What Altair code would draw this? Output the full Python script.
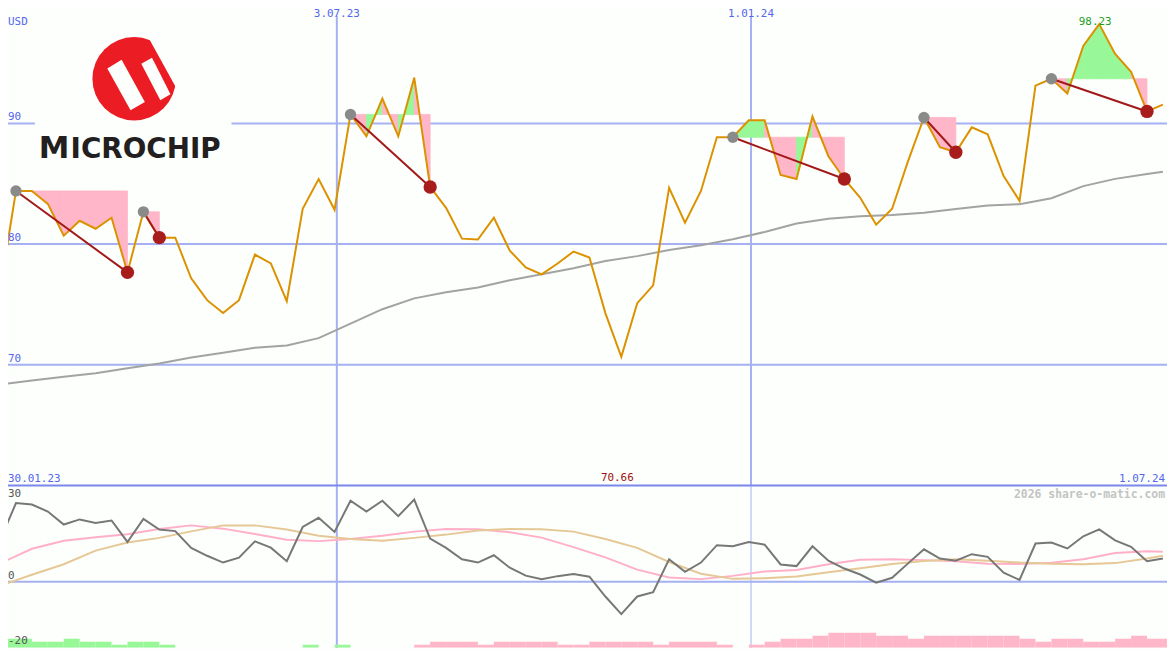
import altair as alt
import pandas as pd

# ---------------- data ----------------
week_dates = [d.strftime("%Y-%m-%d") for d in pd.date_range("2023-02-05", periods=74, freq="7D")]
week_ends = [(pd.Timestamp(d) + pd.Timedelta(days=7)).strftime("%Y-%m-%d") for d in week_dates]

price = [76.17, 84.40, 84.40, 83.33, 80.70, 81.93, 81.27, 82.18, 77.65, 82.67,
         80.53, 80.53, 77.16, 75.35, 74.28, 75.35, 79.13, 78.39, 75.27, 82.92,
         85.39, 82.84, 90.74, 88.93, 92.06, 88.93, 93.79, 84.73, 83.00, 80.45,
         80.37, 82.18, 79.46, 78.06, 77.49, 78.39, 79.38, 78.89, 74.28, 70.66,
         75.10, 76.58, 84.65, 81.77, 84.40, 88.85, 88.85, 90.25, 90.25, 85.72,
         85.39, 90.57, 87.28, 85.39, 83.83, 81.60, 82.92, 86.87, 90.49, 88.02,
         87.61, 89.67, 89.09, 85.64, 83.58, 93.13, 93.70, 92.47, 96.42, 98.23,
         95.76, 94.28, 90.99, 91.56]

smooth_idx = list(range(0, 73, 2)) + [73]
ma = [68.35, 68.7, 69.0, 69.3, 69.7, 70.1, 70.6, 71.0, 71.4, 71.6,
      72.2, 73.4, 74.6, 75.5, 76.0, 76.4, 77.0, 77.5, 78.0, 78.6,
      79.0, 79.5, 79.9, 80.4, 81.0, 81.7, 82.1, 82.3, 82.4, 82.6,
      82.9, 83.2, 83.3, 83.8, 84.8, 85.4, 85.8, 86.0]

osc_main = [15.3, 29.0, 28.5, 25.9, 21.1, 23.0, 21.7, 22.6, 14.7, 23.2,
            19.3, 18.7, 12.5, 9.6, 7.1, 8.9, 14.9, 12.6, 7.6, 20.2,
            23.6, 18.4, 29.9, 25.9, 29.9, 24.2, 30.3, 15.9, 12.5, 8.3,
            7.1, 9.8, 5.2, 2.3, 1.0, 2.1, 2.9, 1.9, -5.4, -11.9,
            -5.4, -3.8, 8.3, 3.7, 7.1, 13.5, 13.1, 14.7, 13.7, 6.4,
            5.8, 13.1, 7.8, 4.9, 2.7, -0.3, 1.5, 6.8, 12.0, 8.6,
            7.8, 10.2, 9.2, 3.4, 0.7, 14.1, 14.5, 12.3, 16.8, 19.3,
            15.3, 12.9, 7.6, 8.6]
osc_pink = [6.8, 12.2, 15.1, 16.4, 17.5, 19.5, 20.8, 19.6, 17.6, 15.5,
            15.0, 15.8, 17.0, 18.5, 19.5, 19.4, 18.3, 16.3, 12.8, 9.0,
            4.5, 1.6, 1.0, 2.2, 3.8, 4.4, 6.5, 8.1, 8.3, 8.0,
            7.6, 6.7, 6.6, 7.0, 8.3, 10.6, 11.3, 11.1]
osc_tan = [-1.4, 2.6, 6.5, 11.5, 14.5, 16.2, 18.6, 20.8, 20.8, 19.3,
           17.0, 15.8, 15.1, 16.2, 17.4, 18.9, 19.5, 19.4, 18.5, 15.8,
           12.5, 7.3, 3.0, 1.1, 1.3, 2.0, 3.5, 5.0, 6.6, 7.7,
           8.3, 7.8, 7.1, 6.7, 6.5, 6.9, 8.6, 9.6]

flow = [3, 3, 2, 2, 3, 2, 2, 1, 2, 2, 1,
        0, 0, 0, 0, 0, 0, 0, 0,
        1, 0, 1, 0, 0, 0, 0,
        -1, -2, -2, -2, -1, -2, -2, -2, -2, -1, -1,
        -2, -2, -2, -2, -1, -2, -2, -2, -1, 0,
        -1, -2, -3, -3, -4, -5, -5, -5, -4, -4, -3,
        -4, -4, -4, -4, -4, -4, -3, -2, -3, -3, -2, -2, -3, -4, -3, -3]

signals = [(1, 8), (9, 10), (22, 27), (46, 53), (58, 60), (66, 72)]

grid_dates = ["2023-07-03", "2024-01-01"]
grid_labels = ["3.07.23", "1.01.24"]
grid_widths = [2, 1]
price_grid = [70, 80, 90]
osc_grid = [30, 0]

# ---------------- derived tables ----------------
df_price = pd.DataFrame({"date": week_dates, "price": price})
df_ma = pd.DataFrame({"date": [week_dates[i] for i in smooth_idx], "ma": ma})
df_osc = pd.DataFrame({"date": week_dates, "v": osc_main})
df_pink = pd.DataFrame({"date": [week_dates[i] for i in smooth_idx], "v": osc_pink})
df_tan = pd.DataFrame({"date": [week_dates[i] for i in smooth_idx], "v": osc_tan})
df_flow = pd.DataFrame({"date": week_dates, "end": week_ends,
                        "h": [abs(f) for f in flow],
                        "dir": ["up" if f > 0 else "down" for f in flow]})
df_flow = df_flow[df_flow.h > 0]

seg_rows, line_rows, start_rows, end_rows = [], [], [], []
sid = 0
for pi, (s, e) in enumerate(signals):
    level = price[s]
    for j in range(s, e):
        d = "up" if price[j + 1] >= level else "down"
        for k in (j, j + 1):
            seg_rows.append({"seg": sid, "date": week_dates[k], "price": price[k],
                             "level": level, "dir": d})
        sid += 1
    line_rows.append({"pair": pi, "date": week_dates[s], "price": price[s]})
    line_rows.append({"pair": pi, "date": week_dates[e], "price": price[e]})
    start_rows.append({"date": week_dates[s], "price": price[s]})
    end_rows.append({"date": week_dates[e], "price": price[e]})
df_seg = pd.DataFrame(seg_rows)
df_sigline = pd.DataFrame(line_rows)
df_start = pd.DataFrame(start_rows)
df_end = pd.DataFrame(end_rows)

df_vgrid = pd.DataFrame({"date": grid_dates, "label": grid_labels, "w": grid_widths})
df_pgrid = pd.DataFrame({"price": price_grid, "label": [str(v) for v in price_grid]})
df_ogrid = pd.DataFrame({"v": osc_grid, "label": [str(v) for v in osc_grid]})

imax = price.index(max(price))
imin = price.index(min(price))
df_max = pd.DataFrame({"date": [week_dates[imax]], "price": [max(price)], "label": [f"{max(price):.2f}"]})
df_min = pd.DataFrame({"date": [week_dates[imin]], "price": [60.0], "label": [f"{min(price):.2f}"]})

# ---------------- style ----------------
BG = "#fcfffc"
GRID = "#a5b1f3"
DIV = "#7a88ee"
BLUE_TXT = "#5566ee"
ORANGE = "#dc9200"
GREEN = "#98f898"
PINK = "#ffb6c8"
MONO = "DejaVu Sans Mono"

XS = alt.Scale(type="utc", nice=False,
               domain=[alt.DateTime(year=2023, month=2, date=8, hours=12, utc=True),
                       alt.DateTime(year=2024, month=7, date=1, hours=19, utc=True)])
PS = alt.Scale(domain=[46.54, 99.38], nice=False, zero=False)
OS = alt.Scale(domain=[-24.3, 210.6], nice=False, zero=False)
BS = alt.Scale(domain=[0, 210.5], nice=False, zero=True)

X = alt.X("date:T", scale=XS, axis=None)
YP = alt.Y("price:Q", scale=PS, axis=None)
YO = alt.Y("v:Q", scale=OS, axis=None)
dir_scale = alt.Scale(domain=["up", "down"], range=[GREEN, PINK])
dir_color = alt.Color("dir:N", scale=dir_scale, legend=None)
dir_stroke = alt.Stroke("dir:N", scale=dir_scale, legend=None)

layers = []

# horizontal price gridlines
layers.append(alt.Chart(df_pgrid).mark_rule(color=GRID, strokeWidth=2).encode(y=YP))
# oscillator zero line
layers.append(alt.Chart(df_ogrid[df_ogrid.v == 0]).mark_rule(color=GRID, strokeWidth=2).encode(y=YO))
# vertical gridlines
layers.append(alt.Chart(df_vgrid).mark_rule(color=GRID, strokeWidth=2).encode(
    x=X, y=alt.value(6), y2=alt.value(479)))
layers.append(alt.Chart(df_vgrid).mark_rule(color=GRID).encode(
    x=X, y=alt.value(479), y2=alt.value(642), strokeWidth=alt.StrokeWidth("w:Q", scale=None)))
# panel divider
layers.append(alt.Chart(pd.DataFrame({"price": [60.0]})).mark_rule(color=DIV, strokeWidth=2).encode(y=YP))

# flow bars at bottom
layers.append(alt.Chart(df_flow).mark_rect(clip=True).encode(
    x=X, x2="end:T", y=alt.Y("h:Q", scale=BS, axis=None), y2=alt.datum(0), color=dir_color))

# signal fills
layers.append(alt.Chart(df_seg).mark_area(opacity=1, strokeWidth=0.8, clip=True).encode(
    x=X, y=YP, y2="level:Q", color=dir_color, stroke=dir_stroke, detail="seg:N"))

# moving average
layers.append(alt.Chart(df_ma).mark_line(color="#a3a3a3", strokeWidth=2, clip=True).encode(
    x=X, y=alt.Y("ma:Q", scale=PS, axis=None)))
# price
layers.append(alt.Chart(df_price).mark_line(color=ORANGE, strokeWidth=2, clip=True).encode(x=X, y=YP))
# signal lines
layers.append(alt.Chart(df_sigline).mark_line(color="#a31818", strokeWidth=2).encode(
    x=X, y=YP, detail="pair:N"))
layers.append(alt.Chart(df_start).mark_point(filled=True, color="#8a8a8a", opacity=1, size=130).encode(x=X, y=YP))
layers.append(alt.Chart(df_end).mark_point(filled=True, color="#a81c1c", opacity=1, size=180).encode(x=X, y=YP))

# oscillator lines
layers.append(alt.Chart(df_pink).mark_line(color="#ffb0c8", strokeWidth=2, clip=True).encode(x=X, y=YO))
layers.append(alt.Chart(df_tan).mark_line(color="#e6c896", strokeWidth=2, clip=True).encode(x=X, y=YO))
layers.append(alt.Chart(df_osc).mark_line(color="#777777", strokeWidth=2, clip=True).encode(x=X, y=YO))

# labels
layers.append(alt.Chart(df_pgrid).mark_text(font=MONO, fontSize=11, color=BLUE_TXT, align="left", dy=-6).encode(
    x=alt.value(0), y=YP, text="label:N"))
layers.append(alt.Chart(pd.DataFrame({"t": ["USD"]})).mark_text(font=MONO, fontSize=11, color=BLUE_TXT, align="left").encode(
    x=alt.value(0), y=alt.value(12), text="t:N"))
layers.append(alt.Chart(df_vgrid).mark_text(font=MONO, fontSize=11, color=BLUE_TXT).encode(
    x=X, y=alt.value(4), text="label:N"))
layers.append(alt.Chart(df_ogrid).mark_text(font=MONO, fontSize=11, color="#555555", align="left", dy=-6).encode(
    x=alt.value(0), y=YO, text="label:N"))
layers.append(alt.Chart(pd.DataFrame({"v": [-20], "label": ["-20"]})).mark_text(font=MONO, fontSize=11, color="#555555", align="left", dy=5).encode(
    x=alt.value(0), y=YO, text="label:N"))
layers.append(alt.Chart(pd.DataFrame({"t": ["30.01.23"]})).mark_text(font=MONO, fontSize=11, color=BLUE_TXT, align="left", baseline="alphabetic").encode(
    x=alt.value(0), y=alt.value(475), text="t:N"))
layers.append(alt.Chart(pd.DataFrame({"t": ["1.07.24"]})).mark_text(font=MONO, fontSize=11, color=BLUE_TXT, align="right", baseline="alphabetic").encode(
    x=alt.value(1165), y=alt.value(475), text="t:N"))
layers.append(alt.Chart(pd.DataFrame({"t": ["2026 share-o-matic.com"]})).mark_text(font=MONO, fontSize=11.5, fontWeight="bold", color="#c4c4c4", align="right").encode(
    x=alt.value(1165), y=alt.value(488), text="t:N"))
layers.append(alt.Chart(df_max).mark_text(font=MONO, fontSize=11, color="#1e9e1e", dy=-2, dx=-4).encode(
    x=X, y=YP, text="label:N"))
layers.append(alt.Chart(df_min).mark_text(font=MONO, fontSize=11, color="#a01010", baseline="alphabetic", dy=-4, dx=-4).encode(
    x=X, y=YP, text="label:N"))

# logo
one = pd.DataFrame({"a": [0]})
layers.append(alt.Chart(one).mark_rect(color=BG).encode(
    x=alt.value(27), x2=alt.value(225), y=alt.value(104), y2=alt.value(124)))
layers.append(alt.Chart(one).mark_point(filled=True, shape="circle", color="#ec1c24", opacity=1, size=7056).encode(
    x=alt.value(127), y=alt.value(69)))
for path in ["M0.07,-1L0.77,0.27L1,0.27L1,-1Z",
             "M-0.45,-0.17L-0.21,-0.32L0.18,0.39L-0.06,0.53Z",
             "M0.12,-0.25L0.30,-0.35L0.61,0.26L0.44,0.36Z"]:
    layers.append(alt.Chart(one).mark_point(filled=True, shape=path, color=BG, opacity=1, size=14400).encode(
        x=alt.value(127), y=alt.value(69)))
layers.append(alt.Chart(pd.DataFrame({"t": ["M"]})).mark_text(font="DejaVu Sans", fontSize=31, fontWeight="bold", color="#231f20", align="left", baseline="alphabetic").encode(
    x=alt.value(31), y=alt.value(149), text="t:N"))
layers.append(alt.Chart(pd.DataFrame({"t": ["ICROCHIP"]})).mark_text(font="DejaVu Sans", fontSize=28, fontWeight="bold", color="#231f20", align="left", baseline="alphabetic").encode(
    x=alt.value(63), y=alt.value(149), text="t:N"))

chart = alt.layer(*layers).resolve_scale(y="independent").properties(
    width=1167, height=642, padding=0,
    autosize=alt.AutoSizeParams(type="none"),
).configure(background=BG).configure_view(stroke=None)

chart.save("out.html", embed_options={"renderer": "svg", "actions": False})
